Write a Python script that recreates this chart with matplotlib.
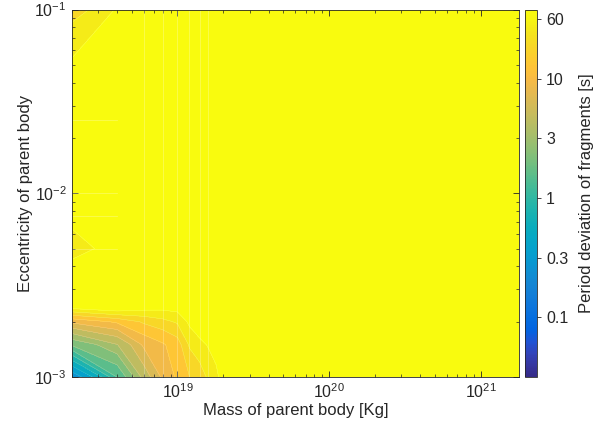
import numpy as np
import matplotlib
matplotlib.use('Agg')
import matplotlib.pyplot as plt
from matplotlib.colors import LinearSegmentedColormap, Normalize
from matplotlib.cm import ScalarMappable

plt.rcParams['font.family'] = ['Liberation Sans', 'DejaVu Sans']
plt.rcParams['font.size'] = 11.5

# simulation grid
mass = np.array([2, 4, 6, 8, 10, 12, 14, 16, 18, 20, 1800]) * 1e18   # kg
ecc = np.array([0.001, 0.0015, 0.002, 0.0025, 0.005, 0.0075, 0.01, 0.025, 0.05, 0.1])

# log10 of period deviation [s]; rows follow ecc, columns follow mass
S = 2.0   # saturated (above colour range)
logdev = np.array([
    [-0.55, 0.20, 0.72, 1.00, 1.15, 1.27, 1.36, 1.45, 1.52, 1.70, S],
    [ 0.37, 0.65, 1.00, 1.10, 1.20, 1.45, 1.52, 1.60, 1.70, S,    S],
    [ 1.00, 1.15, 1.30, 1.38, 1.45, 1.62, 1.75, S,    S,    S,    S],
    [ 1.81, 1.90, 1.75, 1.70, 1.70, 1.90, S,    S,    S,    S,    S],
    [ 1.50, 1.69, S,    S,    S,    S,    S,    S,    S,    S,    S],
    [ 1.64, S,    S,    S,    S,    S,    S,    S,    S,    S,    S],
    [ S,    S,    S,    S,    S,    S,    S,    S,    S,    S,    S],
    [ S,    S,    S,    S,    S,    S,    S,    S,    S,    S,    S],
    [ 1.60, S,    S,    S,    S,    S,    S,    S,    S,    S,    S],
    [ 1.35, 1.60, S,    S,    S,    S,    S,    S,    S,    S,    S],
])

cmin, cmax = -1.5, 1.58
cb_ticks = [-1, -0.5, 0, 0.5, 1, 1.5]
cb_labels = ['0.1', '0.3', '1', '3', '10', '60']

# parula-like colormap
parula_pts = [
    (0.2081, 0.1663, 0.5292), (0.2123, 0.2138, 0.6270), (0.1959, 0.2645, 0.7279),
    (0.1253, 0.3242, 0.8303), (0.0117, 0.3875, 0.8820), (0.0165, 0.4266, 0.8786),
    (0.0498, 0.4586, 0.8641), (0.0723, 0.4887, 0.8467), (0.0793, 0.5200, 0.8312),
    (0.0641, 0.5570, 0.8240), (0.0343, 0.5966, 0.8199), (0.0239, 0.6287, 0.8038),
    (0.0228, 0.6535, 0.7768), (0.0384, 0.6743, 0.7436), (0.0843, 0.6928, 0.7062),
    (0.1453, 0.7098, 0.6646), (0.2178, 0.7250, 0.6193), (0.3022, 0.7376, 0.5712),
    (0.3953, 0.7459, 0.5244), (0.4871, 0.7491, 0.4840), (0.5709, 0.7485, 0.4494),
    (0.6473, 0.7456, 0.4188), (0.7184, 0.7411, 0.3905), (0.7858, 0.7356, 0.3633),
    (0.8507, 0.7299, 0.3360), (0.9139, 0.7258, 0.3063), (0.9739, 0.7314, 0.2666),
    (0.9990, 0.7653, 0.2164), (0.9880, 0.8066, 0.1794), (0.9697, 0.8481, 0.1475),
    (0.9589, 0.8949, 0.1132), (0.9661, 0.9514, 0.0755), (0.9763, 0.9831, 0.0538),
]
parula = LinearSegmentedColormap.from_list('parula', parula_pts, N=256)
norm = Normalize(cmin, cmax)

fig = plt.figure(figsize=(6.08, 4.32), dpi=100)
ax = fig.add_axes([0.1176, 0.1273, 0.7368, 0.8507])

# each band takes the colour of its lower level, values above the top level are yellow
levels = np.linspace(cmin, cmax, 21)
band_colors = [parula(norm(l)) for l in levels[:-1]] + [parula(1.0)]
ax.contourf(mass, ecc, logdev, levels=levels, colors=band_colors, extend='max')
ax.contour(mass, ecc, logdev, levels=levels, colors='w', linewidths=0.3, alpha=0.35)

# faint patch seams like the original renderer
for m in mass[2:8]:
    ax.axvline(m, color='w', lw=0.5, alpha=0.35)
for e in ecc[4:8]:
    ax.plot([mass[0], mass[1]], [e, e], color='w', lw=0.5, alpha=0.35)

ax.set_xscale('log')
ax.set_yscale('log')
ax.set_xlim(2e18, 1.8e21)
ax.set_ylim(1e-3, 1e-1)

dark = '#262626'
ax.tick_params(which='both', direction='in', top=True, right=True, colors=dark,
               labelcolor=dark)
ax.tick_params(which='major', length=4.5, width=0.6)
ax.tick_params(which='minor', length=2.5, width=0.5)
for sp in ax.spines.values():
    sp.set_color(dark)
    sp.set_linewidth(0.6)

ax.set_xlabel('Mass of parent body [Kg]', fontsize=12, color=dark, labelpad=2)
ax.set_ylabel('Eccentricity of parent body', fontsize=12, color=dark, labelpad=1)

cax = fig.add_axes([0.8635, 0.1273, 0.0197, 0.8507])
cb = fig.colorbar(ScalarMappable(norm=norm, cmap=parula), cax=cax)
cb.set_ticks(cb_ticks)
cb.set_ticklabels(cb_labels)
cb.ax.tick_params(direction='out', length=3, width=0.6, colors=dark, labelcolor=dark)
cb.outline.set_edgecolor(dark)
cb.outline.set_linewidth(0.6)
cb.set_label('Period deviation of fragments [s]', fontsize=12, color=dark, labelpad=8)

fig.savefig('out.png', dpi=100)
